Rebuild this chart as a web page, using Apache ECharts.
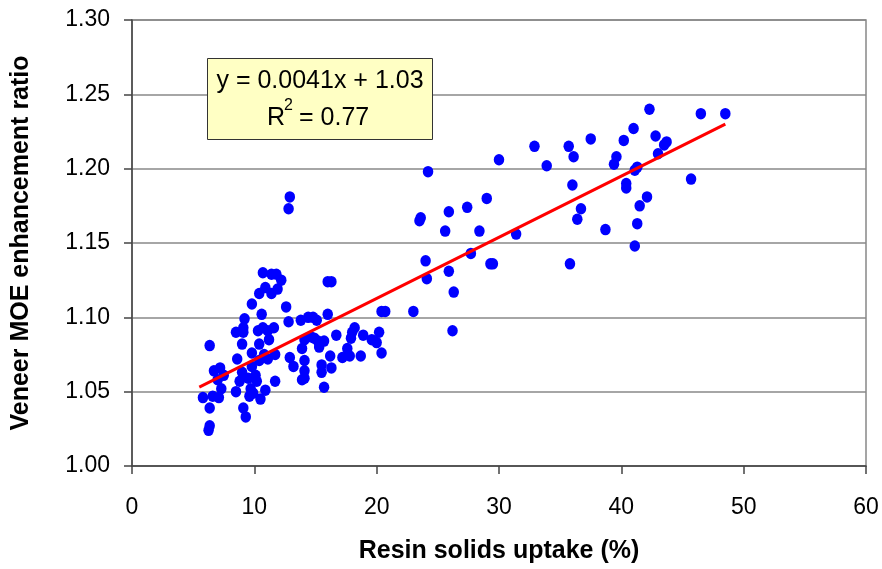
<!DOCTYPE html>
<html>
<head>
<meta charset="utf-8">
<script src="https://cdn.jsdelivr.net/npm/echarts@6/dist/echarts.min.js"></script>
<style>html,body{margin:0;padding:0;background:#fff}#c{width:882px;height:569px}</style>
</head>
<body>
<div id="c"></div>
<script>
// Resin solids uptake (%)
var uptake = [
5.8,6.35,6.26,6.35,6.35,6.6,7.1,6.7,7.2,7.0,7.3,7.5,
8.5,8.6,8.5,8.8,9.0,9.1,9.1,9.2,9.0,9.1,9.3,9.5,9.7,9.6,9.8,9.8,9.8,9.9,
10.1,10.2,10.3,10.4,10.4,10.4,10.5,10.6,10.7,10.7,10.8,10.9,10.9,
11.2,11.1,11.1,11.4,11.4,11.6,11.7,11.7,11.8,11.9,12.2,12.6,12.8,12.8,12.9,12.9,13.2,
13.8,13.9,13.9,14.1,14.1,14.1,14.1,14.4,14.6,14.8,14.9,15.1,15.2,15.3,15.5,15.5,15.7,15.7,
16.0,16.0,16.3,16.2,16.3,16.7,17.2,17.6,17.8,17.9,18.0,18.2,18.7,18.9,19.6,20.0,20.2,20.4,20.4,20.7,
23.0,23.5,23.6,24.0,24.1,24.2,25.6,25.9,25.9,26.2,26.3,27.4,27.7,28.4,29.0,29.3,29.5,30.0,31.4,
32.9,33.9,35.7,35.8,36.0,36.1,36.4,36.7,37.5,38.7,39.4,39.6,40.2,40.4,40.4,41.0,41.1,41.1,41.3,41.3,41.5,
42.1,42.3,42.8,43.0,43.5,43.7,45.7,46.5,48.5
];
// Veneer MOE enhancement ratio
var ratio = [
1.046,1.081,1.024,1.027,1.039,1.047,1.046,1.064,1.066,1.058,1.052,1.061,
1.090,1.072,1.050,1.057,1.063,1.093,1.090,1.099,1.082,1.039,1.033,1.059,1.052,1.047,1.067,1.076,1.109,1.049,
1.061,1.057,1.091,1.071,1.082,1.116,1.045,1.102,1.130,1.093,1.075,1.051,1.120,
1.085,1.072,1.091,1.129,1.116,1.093,1.075,1.057,1.129,1.119,1.125,1.107,1.097,1.173,1.181,1.073,1.067,
1.098,1.079,1.058,1.071,1.064,1.059,1.085,1.100,1.087,1.100,1.086,1.098,1.084,1.080,1.063,1.068,1.084,1.053,
1.102,1.124,1.124,1.074,1.066,1.088,1.073,1.079,1.074,1.086,1.090,1.093,1.074,1.088,1.085,1.083,1.090,1.076,1.104,1.104,
1.104,1.165,1.167,1.138,1.126,1.198,1.158,1.171,1.131,1.091,1.117,1.174,1.143,1.158,1.180,1.136,1.136,1.206,1.156,
1.215,1.202,1.215,1.136,1.189,1.208,1.166,1.173,1.220,1.159,1.203,1.208,1.219,1.190,1.187,1.227,1.148,1.199,1.201,1.163,1.175,
1.181,1.240,1.222,1.210,1.216,1.218,1.193,1.237,1.237
];
// Linear trend line end points (y = 0.0041x + 1.03)
var trendX = [5.5, 48.5];
var trendY = [1.053, 1.230];
var xTicks = [0, 10, 20, 30, 40, 50, 60];
var yTicks = ['1.00','1.05','1.10','1.15','1.20','1.25','1.30'];

var pts = uptake.map(function(x, i){ return [x, ratio[i]]; });
var trend = trendX.map(function(x, i){ return [x, trendY[i]]; });
var F = 'Liberation Sans, Arial, sans-serif';

var chart = echarts.init(document.getElementById('c'), null, {renderer: 'canvas'});
chart.setOption({
  animation: false,
  backgroundColor: '#fff',
  grid: {left: 132, right: 16, top: 20, bottom: 101, show: true, borderColor: '#888', borderWidth: 1.5},
  xAxis: {
    type: 'value', min: 0, max: 60, interval: 10,
    name: 'Resin solids uptake (%)', nameLocation: 'middle', nameGap: 73,
    nameTextStyle: {fontFamily: F, fontSize: 25, fontWeight: 'bold', color: '#000'},
    axisLine: {show: true, onZero: false, lineStyle: {color: '#444', width: 1.5}},
    axisTick: {show: true, length: 8, lineStyle: {color: '#444', width: 1.5}},
    axisLabel: {fontFamily: F, fontSize: 23, color: '#000', margin: 30,
      formatter: function(v){ return xTicks.indexOf(v) >= 0 ? String(v) : ''; }},
    splitLine: {show: false}
  },
  yAxis: {
    type: 'value', min: 1.0, max: 1.3, interval: 0.05,
    name: 'Veneer MOE enhancement ratio', nameLocation: 'middle', nameGap: 98,
    nameTextStyle: {fontFamily: F, fontSize: 25, fontWeight: 'bold', color: '#000'},
    axisLine: {show: true, lineStyle: {color: '#444', width: 1.5}},
    axisTick: {show: true, length: 8, lineStyle: {color: '#444', width: 1.5}},
    axisLabel: {fontFamily: F, fontSize: 23, color: '#000', margin: 22,
      formatter: function(v){ return yTicks[Math.round((v - 1.0) / 0.05)]; }},
    splitLine: {show: true, lineStyle: {color: '#888', width: 1.5}}
  },
  series: [
    {type: 'scatter', data: pts, symbol: 'circle', symbolSize: [10.5, 11.5],
     itemStyle: {color: '#0000FF', opacity: 1}, z: 2},
    {type: 'line', data: trend, symbol: 'none', lineStyle: {color: '#FF0000', width: 3}, z: 3}
  ],
  graphic: [
    {type: 'rect', left: 207, top: 58, shape: {width: 225, height: 81},
     style: {fill: '#FFFFC4', stroke: '#333', lineWidth: 1}, z: 10},
    {type: 'text', x: 320, y: 81, style: {text: 'y = 0.0041x + 1.03', font: '25px ' + F, fill: '#000', align: 'center', verticalAlign: 'middle'}, z: 11},
    {type: 'text', x: 267, y: 118, style: {text: 'R', font: '25px ' + F, fill: '#000', align: 'left', verticalAlign: 'middle'}, z: 11},
    {type: 'text', x: 284, y: 106, style: {text: '2', font: '16px ' + F, fill: '#000', align: 'left', verticalAlign: 'middle'}, z: 11},
    {type: 'text', x: 299, y: 118, style: {text: '= 0.77', font: '25px ' + F, fill: '#000', align: 'left', verticalAlign: 'middle'}, z: 11}
  ]
});
</script>
</body>
</html>
